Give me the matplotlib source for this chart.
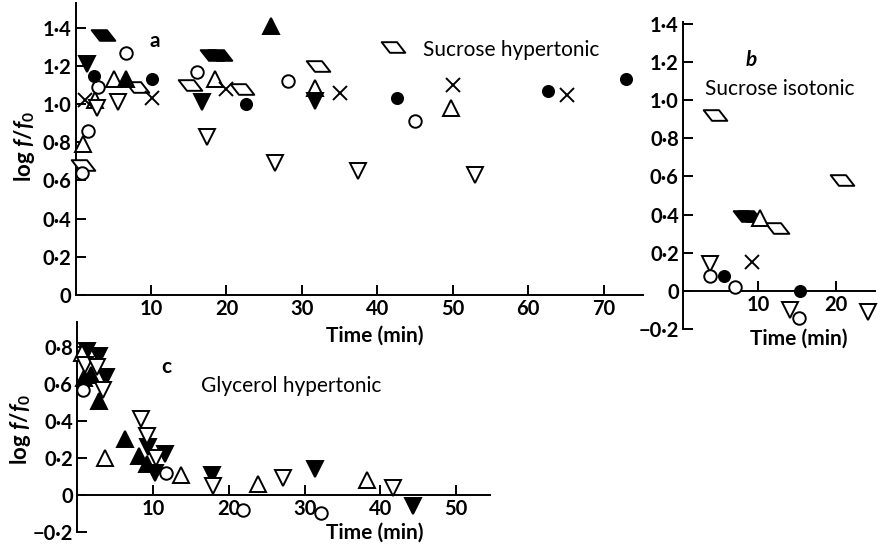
import matplotlib
matplotlib.use('Agg')
import matplotlib.pyplot as plt
from matplotlib.path import Path

plt.rcParams['font.family'] = ['Lato', 'DejaVu Sans']
plt.rcParams['mathtext.fontset'] = 'custom'
plt.rcParams['mathtext.it'] = 'Lato:italic:bold'
plt.rcParams['mathtext.rm'] = 'Lato:bold'

# ---- panel a : sucrose hypertonic ----
a_ocirc_x = [0.85, 1.7, 3.0, 6.7, 16.1, 28.2, 45.0]
a_ocirc_y = [0.64, 0.86, 1.09, 1.27, 1.17, 1.12, 0.91]
a_fcirc_x = [2.5, 10.2, 22.6, 42.6, 62.6, 73.0]
a_fcirc_y = [1.15, 1.13, 1.00, 1.03, 1.07, 1.13]
a_otri_x = [1.0, 2.6, 5.1, 18.5, 31.7, 49.8]
a_otri_y = [0.79, 1.02, 1.13, 1.13, 1.085, 0.98]
a_ftri_x = [6.7, 25.9]
a_ftri_y = [1.13, 1.41]
a_oinv_x = [2.8, 5.6, 17.4, 26.4, 37.5, 53.0]
a_oinv_y = [0.98, 1.01, 0.83, 0.69, 0.65, 0.63]
a_finv_x = [1.5, 16.7, 31.7]
a_finv_y = [1.21, 1.01, 1.017]
a_cross_x = [1.2, 10.1, 20.0, 35.0, 50.0, 65.1]
a_cross_y = [1.02, 1.03, 1.08, 1.06, 1.10, 1.05]
a_opar_x = [1.0, 8.1, 15.2, 22.0, 32.1, 42.1]
a_opar_y = [0.68, 1.09, 1.10, 1.08, 1.20, 1.30]
a_fpar_x = [3.6, 18.1, 19.1]
a_fpar_y = [1.36, 1.26, 1.26]

# ---- panel b : sucrose isotonic ----
b_opar_x = [4.5, 12.4, 20.8]
b_opar_y = [0.92, 0.33, 0.58]
b_fpar_x = [8.4, 9.0]
b_fpar_y = [0.39, 0.39]
b_otri_x = [10.3]
b_otri_y = [0.38]
b_cross_x = [9.2]
b_cross_y = [0.15]
b_oinv_x = [3.8, 14.1, 24.1]
b_oinv_y = [0.14, -0.10, -0.11]
b_ocirc_x = [3.8, 7.0, 15.3]
b_ocirc_y = [0.08, 0.02, -0.14]
b_fcirc_x = [5.6, 15.4]
b_fcirc_y = [0.08, 0.0]

# ---- panel c : glycerol hypertonic ----
c_finv_x = [1.2, 2.8, 3.7, 9.3, 11.5, 10.2, 17.7, 31.4, 44.3]
c_finv_y = [0.78, 0.75, 0.64, 0.26, 0.22, 0.12, 0.11, 0.14, -0.06]
c_oinv_x = [0.9, 2.5, 3.3, 8.3, 9.1, 10.3, 17.9, 27.1, 41.7]
c_oinv_y = [0.70, 0.69, 0.57, 0.41, 0.32, 0.20, 0.05, 0.09, 0.04]
c_ftri_x = [0.8, 1.8, 2.8, 6.2, 8.1, 9.1]
c_ftri_y = [0.63, 0.65, 0.51, 0.30, 0.21, 0.17]
c_otri_x = [0.5, 3.6, 13.6, 23.8, 38.3]
c_otri_y = [0.77, 0.20, 0.11, 0.06, 0.08]
c_ocirc_x = [0.7, 11.7, 21.8, 32.2]
c_ocirc_y = [0.57, 0.12, -0.08, -0.10]

# parallelogram marker, slanted like in the figure
para = Path([(-1, 0.45), (0.3, 0.45), (1, -0.45), (-0.3, -0.45), (-1, 0.45)],
            [Path.MOVETO, Path.LINETO, Path.LINETO, Path.LINETO, Path.CLOSEPOLY])

STYLES = {
    'ocirc': dict(marker='o', ms=9, mfc='white'),
    'fcirc': dict(marker='o', ms=8, mfc='black'),
    'otri': dict(marker='^', ms=11, mfc='white'),
    'ftri': dict(marker='^', ms=11, mfc='black'),
    'oinv': dict(marker='v', ms=11, mfc='white'),
    'finv': dict(marker='v', ms=11, mfc='black'),
    'cross': dict(marker='x', ms=10, mfc='none'),
    'opar': dict(marker=para, ms=17, mfc='white'),
    'fpar': dict(marker=para, ms=17, mfc='black'),
}


def pts(ax, kind, xs, ys):
    st = STYLES[kind]
    ax.plot(xs, ys, ls='none', mec='black', mew=1.4, clip_on=False, zorder=3, **st)


def fmt(v):
    if abs(v) < 1e-9:
        return '0'
    if float(v).is_integer() and abs(v) >= 2:
        return str(int(v))
    s = f'{abs(v):.1f}'.replace('.', '\u00b7')
    return ('\u2212' if v < 0 else '') + s


def style_axes(ax, xt, yt, spine_at_zero=False):
    for s in ('top', 'right'):
        ax.spines[s].set_visible(False)
    for s in ('left', 'bottom'):
        ax.spines[s].set_linewidth(1.4)
    if spine_at_zero:
        ax.spines['bottom'].set_position(('data', 0))
    ax.set_xticks(xt)
    ax.set_xticklabels([fmt(v) for v in xt])
    ax.set_yticks(yt)
    ax.set_yticklabels([fmt(v) for v in yt])
    ax.tick_params(direction='in', length=7, width=1.4, labelsize=14.5, pad=3)
    for lab in ax.get_xticklabels() + ax.get_yticklabels():
        lab.set_fontweight('bold')
    ax.patch.set_visible(False)


fig = plt.figure(figsize=(8.85, 5.48), dpi=100)

# panel a
axa = fig.add_axes([75.5 / 885, 1 - 295 / 548, 567.5 / 885, 292 / 548])
axa.set_xlim(0, 75.2)
axa.set_ylim(0, 1.53)
style_axes(axa, [10, 20, 30, 40, 50, 60, 70], [0, 0.2, 0.4, 0.6, 0.8, 1.0, 1.2, 1.4])
pts(axa, 'opar', a_opar_x, a_opar_y)
pts(axa, 'fpar', a_fpar_x, a_fpar_y)
pts(axa, 'otri', a_otri_x, a_otri_y)
pts(axa, 'ftri', a_ftri_x, a_ftri_y)
pts(axa, 'oinv', a_oinv_x, a_oinv_y)
pts(axa, 'finv', a_finv_x, a_finv_y)
pts(axa, 'cross', a_cross_x, a_cross_y)
pts(axa, 'ocirc', a_ocirc_x, a_ocirc_y)
pts(axa, 'fcirc', a_fcirc_x, a_fcirc_y)
axa.text(10.5, 1.33, 'a', fontsize=15, fontweight='bold', ha='center', va='center')
axa.text(46.0, 1.285, 'Sucrose hypertonic', fontsize=15, ha='left', va='center')
axa.text(0.528, -0.14, 'Time (min)', transform=axa.transAxes, fontsize=15,
         fontweight='bold', ha='center', va='center')
axa.text(-0.089, 0.51, r'log $f/f_0$', transform=axa.transAxes, fontsize=16,
         fontweight='bold', rotation=90, ha='center', va='center')

# panel b
axb = fig.add_axes([683 / 885, 1 - 329 / 548, 192 / 885, 307 / 548])
axb.set_xlim(0.4, 25)
axb.set_ylim(-0.2, 1.41)
style_axes(axb, [10, 20], [-0.2, 0, 0.2, 0.4, 0.6, 0.8, 1.0, 1.2, 1.4], spine_at_zero=True)
pts(axb, 'opar', b_opar_x, b_opar_y)
pts(axb, 'fpar', b_fpar_x, b_fpar_y)
pts(axb, 'otri', b_otri_x, b_otri_y)
pts(axb, 'cross', b_cross_x, b_cross_y)
pts(axb, 'oinv', b_oinv_x, b_oinv_y)
pts(axb, 'ocirc', b_ocirc_x, b_ocirc_y)
pts(axb, 'fcirc', b_fcirc_x, b_fcirc_y)
axb.text(9.2, 1.21, 'b', fontsize=15, fontweight='bold', fontstyle='italic',
         ha='center', va='center')
axb.text(12.8, 1.06, 'Sucrose isotonic', fontsize=15, ha='center', va='center')
fig.text(799 / 885, 1 - 339 / 548, 'Time (min)', fontsize=15, fontweight='bold',
         ha='center', va='center')

# panel c
axc = fig.add_axes([77 / 885, 1 - 532 / 548, 413 / 885, 210 / 548])
axc.set_xlim(-0.1, 54.5)
axc.set_ylim(-0.2, 0.935)
style_axes(axc, [10, 20, 30, 40, 50], [-0.2, 0, 0.2, 0.4, 0.6, 0.8], spine_at_zero=True)
pts(axc, 'ftri', c_ftri_x, c_ftri_y)
pts(axc, 'finv', c_finv_x, c_finv_y)
pts(axc, 'otri', c_otri_x, c_otri_y)
pts(axc, 'oinv', c_oinv_x, c_oinv_y)
pts(axc, 'ocirc', c_ocirc_x, c_ocirc_y)
axc.text(11.7, 0.69, 'c', fontsize=15, fontweight='bold', ha='center', va='center')
axc.text(16.3, 0.59, 'Glycerol hypertonic', fontsize=15, ha='left', va='center')
fig.text(375 / 885, 1 - 533 / 548, 'Time (min)', fontsize=15, fontweight='bold',
         ha='center', va='center')
axc.text(-0.138, 0.49, r'log $f/f_0$', transform=axc.transAxes, fontsize=16,
         fontweight='bold', rotation=90, ha='center', va='center')

fig.savefig('out.png', dpi=100)
